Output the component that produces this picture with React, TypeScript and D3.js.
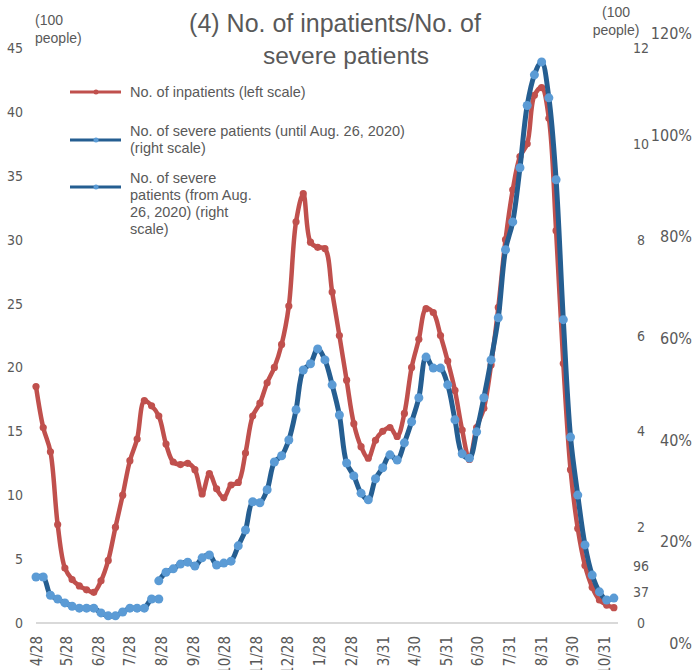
import React from "react";
import * as d3 from "d3";

const START = new Date(2020, 3, 28);
const WEEKS = 81;
const dates: Date[] = d3.range(WEEKS).map((i) => d3.timeDay.offset(START, i * 7));

// No. of inpatients (hundreds, left scale)
const inpatients = [
  18.5, 15.3, 13.4, 7.7, 4.3, 3.4, 2.9, 2.6, 2.4, 3.3,
  4.9, 7.5, 10.0, 12.7, 14.4, 17.4, 17.0, 16.2, 14.0, 12.6,
  12.4, 12.5, 12.0, 10.1, 11.7, 10.5, 9.8, 10.8, 11.0, 13.3,
  16.2, 17.2, 18.8, 20.0, 21.8, 24.8, 31.4, 33.6, 29.8, 29.4,
  29.3, 25.9, 22.5, 19.0, 15.6, 13.8, 12.9, 14.3, 15.0, 15.3,
  14.6, 16.4, 20.0, 22.2, 24.6, 24.3, 22.5, 20.5, 18.2, 15.1,
  12.8, 15.3, 16.8, 20.2, 24.7, 30.0, 33.9, 36.5, 37.5, 41.3,
  41.9, 39.5, 30.7, 20.3, 12.0, 7.4, 4.5, 2.8, 1.8, 1.4, 1.2,
];

// No. of severe patients until Aug. 26, 2020 (hundreds, right scale), weeks 0..17
const severeUntil = [
  0.96, 0.96, 0.58, 0.5, 0.42, 0.35, 0.31, 0.31, 0.31, 0.21,
  0.15, 0.15, 0.23, 0.31, 0.31, 0.31, 0.5, 0.5,
];
const severeUntilStart = 0;

// No. of severe patients from Aug. 26, 2020 (hundreds, right scale), weeks 17..80
const severeFrom = [
  0.88, 1.06, 1.13, 1.23, 1.27, 1.19, 1.36, 1.42, 1.21, 1.25,
  1.29, 1.61, 1.94, 2.53, 2.51, 2.78, 3.36, 3.49, 3.82, 4.45,
  5.28, 5.41, 5.72, 5.49, 4.97, 4.34, 3.34, 3.07, 2.71, 2.57,
  3.01, 3.24, 3.51, 3.4, 3.76, 4.2, 4.7, 5.55, 5.32, 5.32,
  4.97, 4.24, 3.53, 3.44, 3.99, 4.7, 5.49, 6.37, 7.79, 8.37,
  9.5, 10.8, 11.44, 11.71, 10.96, 9.25, 6.33, 3.88, 2.67, 1.63,
  1.0, 0.65, 0.48, 0.52,
];
const severeFromStart = 17;

const tickDates = [
  "2020-04-28", "2020-05-28", "2020-06-28", "2020-07-28", "2020-08-28",
  "2020-09-28", "2020-10-28", "2020-11-28", "2020-12-28", "2021-01-28",
  "2021-02-28", "2021-03-31", "2021-04-30", "2021-05-31", "2021-06-30",
  "2021-07-31", "2021-08-31", "2021-09-30", "2021-10-31",
];
const leftTicks = [0, 5, 10, 15, 20, 25, 30, 35, 40, 45];
const rightTicks = [0, 2, 4, 6, 8, 10, 12];
const pctTicks = [0, 0.2, 0.4, 0.6, 0.8, 1.0, 1.2];
const lastLabels = ["96", "37"];
const lastLabelValues = [0.96, 0.37];

const titleLines = ["(4) No. of inpatients/No. of", "severe patients"];
const legendItems = [
  { lines: ["No. of inpatients (left scale)"], color: "#c0504d", marker: "#c0504d" },
  { lines: ["No. of severe patients (until Aug. 26, 2020)", "(right scale)"], color: "#255e91", marker: "#5b9bd5" },
  { lines: ["No. of severe", "patients (from Aug.", "26, 2020) (right", "scale)"], color: "#255e91", marker: "#5b9bd5" },
];

const RED = "#c0504d";
const BLUE_LINE = "#255e91";
const BLUE_MARK = "#5b9bd5";
const TXT = "#595959";
const NUMFONT = "'Liberation Sans Narrow', 'DejaVu Sans Condensed', 'Liberation Sans', sans-serif";
const FONT = "'Liberation Sans', Arial, sans-serif";

const parse = d3.timeParse("%Y-%m-%d");

export default function App() {
  const W = 697, H = 670;
  const x = d3.scaleTime().domain([START, new Date(2021, 10, 13)]).range([36, 618]);
  const yL = d3.scaleLinear().domain([0, 45]).range([623, 48]);
  const yR = d3.scaleLinear().domain([0, 12]).range([623, 48]);
  const yP = d3.scaleLinear().domain([0, 1.2]).range([643, 33]);

  type P = { d: Date; v: number };
  const redPts: P[] = inpatients.map((v, i) => ({ d: dates[i], v }));
  const b1: P[] = severeUntil.map((v, i) => ({ d: dates[severeUntilStart + i], v }));
  const b2: P[] = severeFrom.map((v, i) => ({ d: dates[severeFromStart + i], v }));

  const lineL = d3.line<P>().x((p) => x(p.d)).y((p) => yL(p.v)).curve(d3.curveCatmullRom.alpha(0.5));
  const lineR = d3.line<P>().x((p) => x(p.d)).y((p) => yR(p.v)).curve(d3.curveCatmullRom.alpha(0.5));
  const fmt = d3.timeFormat("%-m/%-d");

  const legendY = [92, 140, 187];
  const labelOffsets = [-11, -13];

  return (
    <svg width={W} height={H} style={{ position: "absolute", left: 0, top: 0, background: "#fff" }}>
      {/* title */}
      <text x={335} y={32} textAnchor="middle" fontFamily={FONT} fontSize={25} fill={TXT}>{titleLines[0]}</text>
      <text x={346} y={64} textAnchor="middle" fontFamily={FONT} fontSize={24.5} fill={TXT}>{titleLines[1]}</text>

      {/* unit labels */}
      <text x={35} y={25} fontFamily={FONT} fontSize={14} fill={TXT}>(100</text>
      <text x={35} y={43} fontFamily={FONT} fontSize={14} fill={TXT}>people)</text>
      <text x={616} y={17} textAnchor="middle" fontFamily={FONT} fontSize={14} fill={TXT}>(100</text>
      <text x={616} y={35} textAnchor="middle" fontFamily={FONT} fontSize={14} fill={TXT}>people)</text>

      {/* left axis */}
      {leftTicks.map((t) => (
        <text key={"l" + t} x={23} y={yL(t) + 5} textAnchor="end" fontFamily={NUMFONT} fontSize={14} fill={TXT}>{t}</text>
      ))}
      {/* right axis */}
      {rightTicks.map((t) => (
        <text key={"r" + t} x={641} y={yR(t) + 5} textAnchor="middle" fontFamily={NUMFONT} fontSize={14} fill={TXT}>{t}</text>
      ))}
      {lastLabels.map((s, k) => (
        <text key={"ll" + k} x={641} y={yR(lastLabelValues[k]) + labelOffsets[k] + 5} textAnchor="middle" fontFamily={NUMFONT} fontSize={14} fill={TXT}>{s}</text>
      ))}
      {/* percent axis */}
      {pctTicks.map((t) => (
        <text key={"p" + t} x={692} y={yP(t) + 6} textAnchor="end" fontFamily={NUMFONT} fontSize={16} fill={TXT}>{Math.round(t * 100) + "%"}</text>
      ))}

      {/* baseline */}
      <line x1={x.range()[0]} x2={x.range()[1]} y1={yL(0)} y2={yL(0)} stroke="#d9d9d9" strokeWidth={2} />

      {/* x tick labels */}
      {tickDates.map((s) => {
        const d = parse(s)!;
        const tx = x(d) + 5.5;
        const ty = 636;
        return (
          <text key={s} transform={`translate(${tx},${ty}) rotate(-90)`} textAnchor="end" fontFamily={NUMFONT} fontSize={15} fill={TXT}>{fmt(d)}</text>
        );
      })}

      {/* series */}
      <path d={lineL(redPts)!} fill="none" stroke={RED} strokeWidth={4.5} strokeLinejoin="round" />
      {redPts.map((p, i) => (
        <circle key={"rp" + i} cx={x(p.d)} cy={yL(p.v)} r={3.6} fill={RED} />
      ))}
      <path d={lineR(b1)!} fill="none" stroke={BLUE_LINE} strokeWidth={5} strokeLinejoin="round" />
      {b1.map((p, i) => (
        <circle key={"b1" + i} cx={x(p.d)} cy={yR(p.v)} r={4.5} fill={BLUE_MARK} />
      ))}
      <path d={lineR(b2)!} fill="none" stroke={BLUE_LINE} strokeWidth={5} strokeLinejoin="round" />
      {b2.map((p, i) => (
        <circle key={"b2" + i} cx={x(p.d)} cy={yR(p.v)} r={4.5} fill={BLUE_MARK} />
      ))}

      {/* legend */}
      {legendItems.map((it, k) => {
        const ly = legendY[k];
        const n = it.lines.length;
        const lh = 17;
        const top = n > 1 ? ly - 9 : ly;
        return (
          <g key={"lg" + k}>
            <line x1={70} x2={121} y1={ly} y2={ly} stroke={it.color} strokeWidth={3} />
            <circle cx={96} cy={ly} r={2.5} fill={it.marker} />
            {it.lines.map((ln, j) => (
              <text key={j} x={130} y={top + j * lh + 5} fontFamily={FONT} fontSize={14.5} fill={TXT}>{ln}</text>
            ))}
          </g>
        );
      })}
    </svg>
  );
}
